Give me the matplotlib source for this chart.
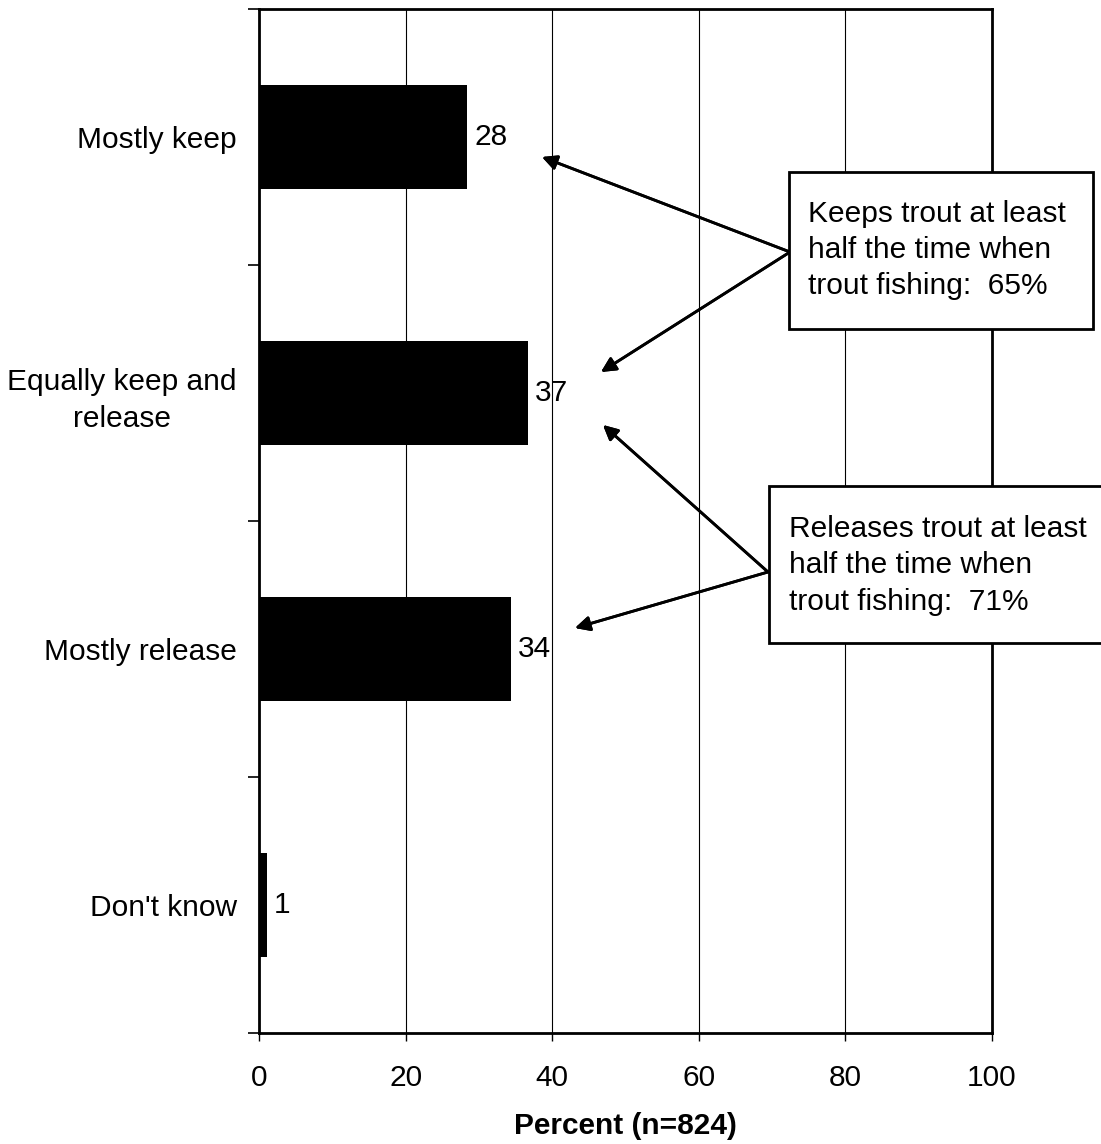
import numpy as np
import matplotlib.pyplot as plt
from matplotlib.patches import Rectangle

plt.rcParams['font.family'] = ['Liberation Sans', 'DejaVu Sans']

# data
categories = ['Mostly keep', 'Equally keep and\nrelease', 'Mostly release', "Don't know"]
values = [28.4, 36.7, 34.4, 1.1]
labels = ['28', '37', '34', '1']

FS = 21.5
W, H = 1101, 1144
fig = plt.figure(figsize=(W / 100, H / 100), dpi=100)


def fx(px):
    return px / W


def fy(py):
    return 1 - py / H


ax = fig.add_axes([fx(259), fy(1033), fx(992) - fx(259), fy(9) - fy(1033)])

ypos = np.arange(len(categories))
ax.barh(ypos, values, height=0.406, color='black', zorder=3)
for y, v, t in zip(ypos, values, labels):
    ax.annotate(t, (v, y), xytext=(5, 0), textcoords='offset points',
                ha='left', va='center', fontsize=FS, zorder=4)

ax.set_xlim(0, 100)
ax.set_ylim(len(categories) - 0.5, -0.5)
ax.set_xticks([0, 20, 40, 60, 80, 100])
ax.set_yticks(ypos)
ax.set_yticklabels(categories, fontsize=FS, ha='right', multialignment='center',
                   linespacing=1.4)
ax.set_yticks(np.arange(-0.5, len(categories), 1.0), minor=True)
ax.tick_params(axis='y', which='major', length=0, pad=16)
ax.tick_params(axis='y', which='minor', length=8, width=1.2, direction='out')
ax.tick_params(axis='x', length=6, width=1, direction='out', labelsize=FS, pad=16)
ax.xaxis.grid(True, color='black', linewidth=0.8, zorder=0)
for s in ax.spines.values():
    s.set_linewidth(2)
ax.set_xlabel('Percent (n=824)', fontsize=FS, fontweight='bold', labelpad=15)

# note boxes
boxes = [
    (789, 172, 1093, 329, 808, 200,
     'Keeps trout at least\nhalf the time when\ntrout fishing:  65%',
     (790, 252), [(542, 157), (601, 372)]),
    (769, 486, 1140, 643, 789, 515,
     'Releases trout at least\nhalf the time when\ntrout fishing:  71%',
     (768, 572), [(603, 425), (575, 628)]),
]
for x0, y0, x1, y1, tx, ty, txt, src, tips in boxes:
    fig.add_artist(Rectangle((fx(x0), fy(y1)), fx(x1) - fx(x0), fy(y0) - fy(y1),
                             transform=fig.transFigure, facecolor='white',
                             edgecolor='black', linewidth=2, zorder=5))
    fig.text(fx(tx), fy(ty), txt, fontsize=FS, ha='left', va='top',
             linespacing=1.375, zorder=6)
    for tip in tips:
        fig.add_artist(plt.annotate('', xy=(fx(tip[0]), fy(tip[1])),
                                    xytext=(fx(src[0]), fy(src[1])),
                                    xycoords='figure fraction',
                                    textcoords='figure fraction',
                                    arrowprops=dict(arrowstyle='-|>', color='black',
                                                    lw=2, mutation_scale=22,
                                                    shrinkA=0, shrinkB=0)))

fig.savefig('out.png', dpi=100)
